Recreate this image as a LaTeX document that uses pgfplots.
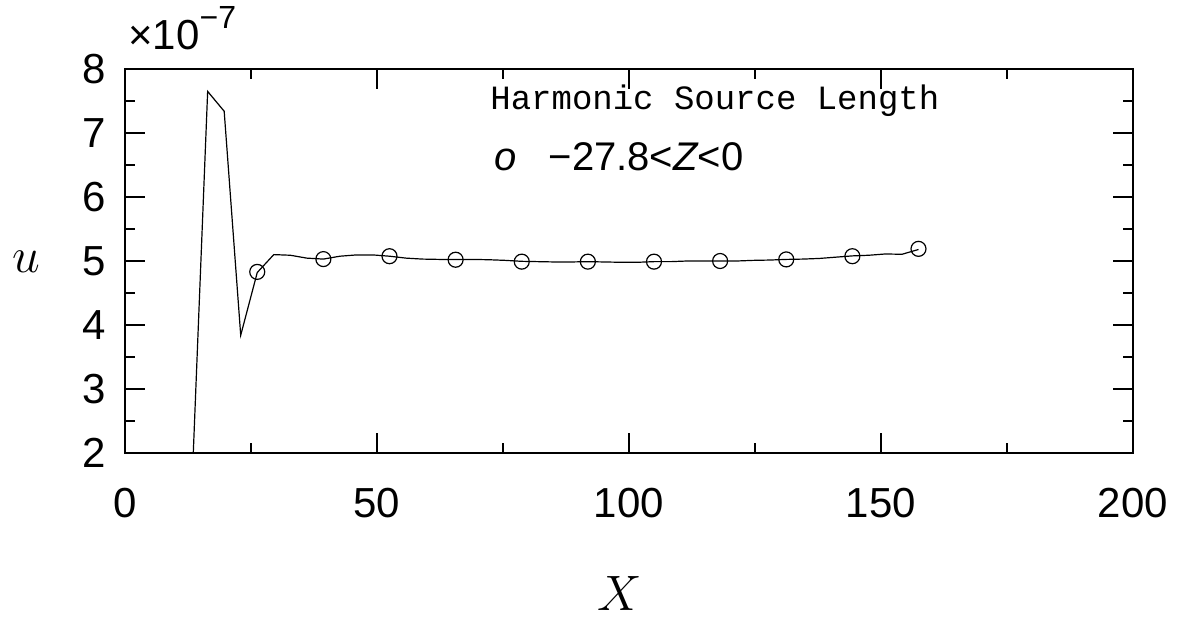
\documentclass[border=0pt]{standalone}
\usepackage{fontspec}
\setmainfont{Liberation Sans}
\newfontfamily\slabfont{Liberation Mono}
\usepackage{pgfplots}
\pgfplotsset{compat=1.18}

% u in units of 1e-7
\pgfplotstableread{
X      u
13.12  1.15
16.40  7.65
19.68  7.34
22.96  3.84
26.24  4.82
29.52  5.10
32.80  5.09
36.08  5.045
39.36  5.03
42.64  5.075
45.92  5.095
49.20  5.095
52.48  5.075
55.76  5.045
59.04  5.03
62.32  5.025
65.60  5.025
68.88  5.025
72.16  5.02
75.44  5.01
78.72  4.995
82.00  4.99
85.28  4.985
88.56  4.985
91.84  4.99
95.12  4.985
98.40  4.98
101.68 4.98
104.96 4.99
108.24 4.99
111.52 5.00
114.80 5.00
118.08 5.00
121.36 5.00
124.64 5.01
127.92 5.015
131.20 5.025
134.48 5.03
137.76 5.04
141.04 5.06
144.32 5.08
147.60 5.09
150.88 5.11
154.16 5.105
157.44 5.18
}\linedata

\pgfplotstableread{
X      u
26.24  4.83
39.36  5.03
52.48  5.075
65.60  5.02
78.72  4.99
91.84  4.99
104.96 4.99
118.08 5.00
131.20 5.025
144.32 5.075
157.44 5.19
}\circdata

\begin{document}
\begin{tikzpicture}
\path[use as bounding box] (-62.5pt,-82pt) rectangle (526.5pt,226.5pt);
\begin{axis}[
  at={(0pt,0pt)}, anchor=south west,
  scale only axis, width=504pt, height=192pt,
  xmin=0, xmax=200, ymin=2, ymax=8,
  xtick={0,50,100,150,200}, ytick={2,3,4,5,6,7,8},
  minor x tick num=1, minor y tick num=1,
  tick align=inside, major tick length=10pt, minor tick length=5pt,
  axis line style={line width=0.7pt},
  every tick/.style={black, line width=0.7pt},
  ticklabel style={font=\fontsize{21}{25}\selectfont},
  /pgf/number format/assume math mode=true,
  xticklabel shift=14pt, yticklabel shift=6pt,
]
\addplot[black, line width=0.6pt, mark=none] table[x=X, y=u] {\linedata};
\addplot[black, only marks, mark=o, mark size=3.75pt, mark options={line width=0.6pt}] table[x=X, y=u] {\circdata};
\end{axis}
% labels, placed in pt from the lower-left corner of the axis box
\node[anchor=base west, inner sep=0] at (1.5pt,202pt) {\fontsize{21}{24}\selectfont ×10\raisebox{0.5em}{\fontsize{16}{18}\selectfont −7}};
\node[anchor=base west, inner sep=0] at (182.5pt,172pt) {\slabfont\fontsize{17}{20}\selectfont Harmonic Source Length};
\node[anchor=base west, inner sep=0] at (184.5pt,141.5pt) {\fontsize{20}{23}\selectfont\itshape o\upshape\hspace{0.8em}−27.8<\itshape Z\upshape<0};
\node at (-49.5pt,95.5pt) {\fontsize{26}{30}\selectfont$u$};
\node at (247.5pt,-70pt) {\fontsize{25}{30}\selectfont$X$};
\end{tikzpicture}
\end{document}
